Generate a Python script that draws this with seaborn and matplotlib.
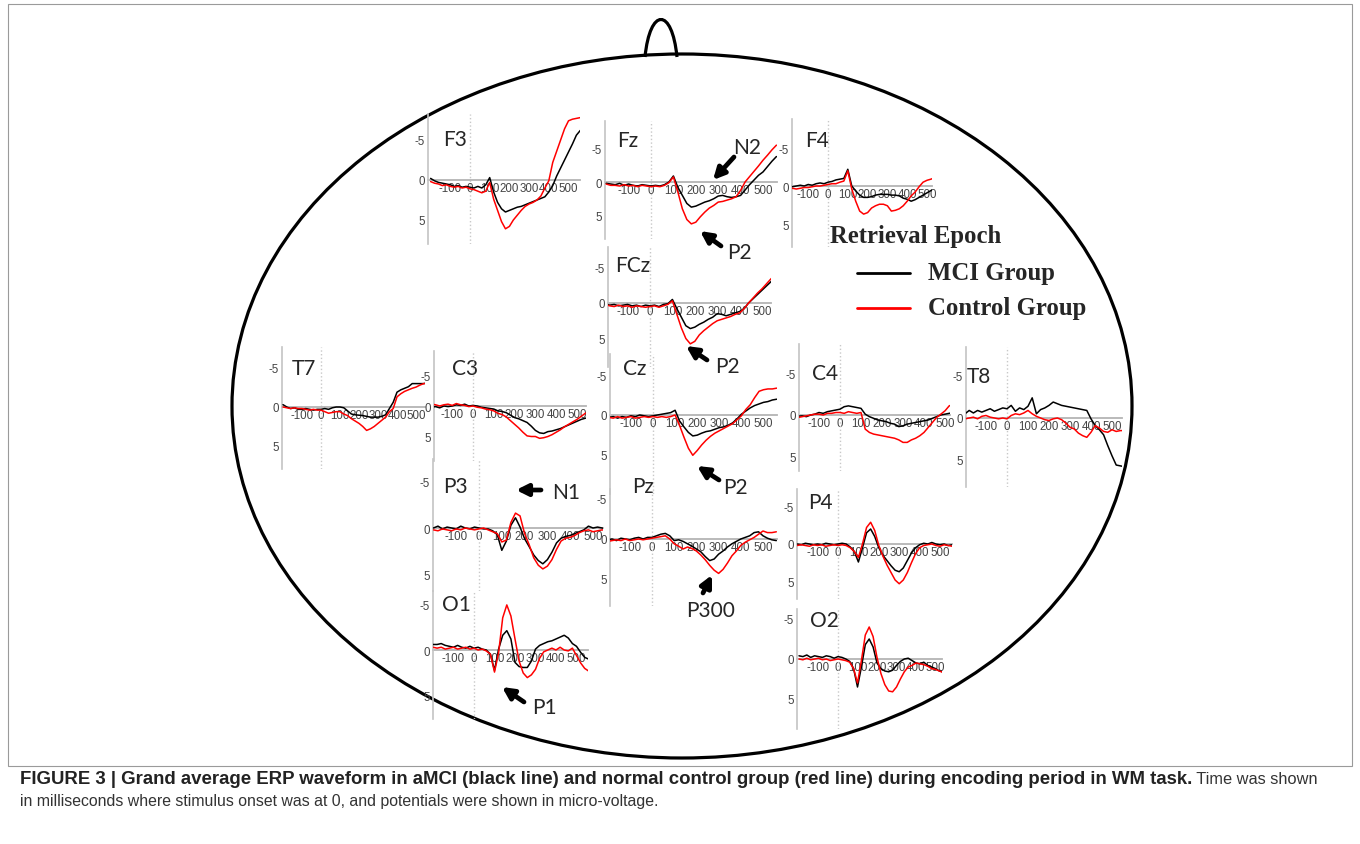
import numpy as np
import pandas as pd
import seaborn as sns
import matplotlib.pyplot as plt
from matplotlib.patches import Ellipse, Rectangle, PathPatch
from matplotlib.path import Path

# sample times (ms) shared by every electrode
times = [-200, -180, -160, -140, -120, -100, -80, -60, -40, -20, 0, 20, 40, 60, 80, 100,
         120, 140, 160, 180, 200, 220, 240, 260, 280, 300, 320, 340, 360, 380, 400, 420,
         440, 460, 480, 500, 520, 540, 560]

# grand average amplitudes (uV), MCI group (black) and control group (red)
f3_mci = [-0.2, 0.1, 0.3, 0.4, 0.5, 0.6, 0.8, 0.7, 0.9, 0.8, 0.9, 1.0, 0.8, 1.0, 0.6, -0.3, 1.5, 2.8, 3.6, 4.0,
          3.8, 3.6, 3.4, 3.3, 3.1, 2.9, 2.7, 2.5, 2.3, 2.1, 1.5, 0.7, -0.5, -1.5, -2.5, -3.5, -4.5, -5.6, -6.2]
f3_ctl = [0.2, 0.4, 0.5, 0.7, 0.6, 0.8, 0.9, 0.8, 1.0, 0.9, 1.1, 1.2, 1.4, 1.6, 1.4, 0.3, 2.4, 3.8, 5.2, 6.1,
          5.8, 5.0, 4.4, 3.8, 3.3, 3.0, 2.8, 2.5, 2.0, 1.0, 0.1, -2.2, -3.6, -5.0, -6.4, -7.4, -7.6, -7.7, -7.8]
fz_mci = [0.2, 0.3, 0.4, 0.2, 0.5, 0.3, 0.5, 0.6, 0.4, 0.5, 0.6, 0.5, 0.6, 0.4, 0.0, -0.9, 0.8, 2.0, 3.2, 3.75,
          3.6, 3.3, 3.0, 2.8, 2.5, 2.1, 2.0, 2.2, 2.3, 2.2, 2.0, 1.2, 0.4, -0.3, -1.0, -1.5, -2.3, -3.1, -3.8]
fz_ctl = [0.3, 0.5, 0.5, 0.6, 0.4, 0.6, 0.5, 0.7, 0.5, 0.6, 0.7, 0.6, 0.7, 0.5, 0.1, -0.75, 1.5, 4.0, 5.6, 6.25,
          6.0, 5.2, 4.5, 3.9, 3.5, 3.0, 2.9, 2.7, 2.5, 2.2, 1.25, 0.0, -0.8, -1.6, -2.4, -3.25, -4.0, -4.8, -5.5]
f4_mci = [0.2, 0.1, 0.0, -0.1, 0.0, -0.2, -0.1, -0.3, -0.4, -0.3, -0.5, -0.6, -0.8, -0.9, -1.0, -2.2, 0.0, 0.65, 1.2, 1.5,
          1.5, 1.4, 1.2, 1.1, 1.1, 1.1, 1.2, 1.2, 1.3, 1.6, 1.75, 2.0, 1.8, 1.5, 1.2, 0.9, 0.6, 0.3, 0.1]
f4_ctl = [0.4, 0.3, 0.4, 0.3, 0.2, 0.2, 0.1, 0.0, 0.0, -0.1, -0.2, -0.3, -0.3, -0.5, -0.65, -2.0, 0.4, 2.0, 3.3, 3.7,
          3.5, 2.9, 2.6, 2.4, 2.4, 2.6, 3.3, 3.2, 3.0, 2.6, 2.0, 1.3, 0.8, 0.1, -0.5, -0.75, -0.9, -1.1, -1.2]
fcz_mci = [0.1, 0.3, 0.2, 0.4, 0.3, 0.2, 0.4, 0.3, 0.5, 0.3, 0.4, 0.3, 0.5, 0.2, 0.1, -0.5, 0.8, 2.0, 3.2, 3.6,
           3.4, 3.0, 2.7, 2.3, 2.0, 1.5, 1.6, 1.8, 1.6, 1.4, 1.2, 0.8, 0.0, -0.6, -1.2, -1.8, -2.4, -3.0, -3.4]
fcz_ctl = [0.2, 0.4, 0.5, 0.3, 0.5, 0.4, 0.6, 0.4, 0.5, 0.6, 0.5, 0.4, 0.6, 0.4, 0.2, -0.3, 1.6, 3.5, 5.0, 5.75,
           5.4, 4.5, 3.9, 3.4, 2.9, 2.5, 2.3, 2.1, 1.9, 1.6, 1.4, 0.8, 0.0, -0.7, -1.4, -2.0, -2.7, -3.4, -4.0]
t7_mci = [-0.3, 0.0, 0.2, 0.1, 0.3, 0.3, 0.2, 0.3, 0.4, 0.3, 0.3, 0.2, 0.3, 0.1, 0.0, 0.0, 0.1, 0.5, 0.9, 1.0,
          1.05, 1.1, 1.2, 1.3, 1.3, 1.3, 1.2, 1.0, 0.2, -0.6, -1.9, -2.2, -2.4, -2.6, -3.0, -3.0, -3.0, -3.0, -3.1]
t7_ctl = [0.0, 0.1, 0.2, 0.1, 0.2, 0.2, 0.3, 0.4, 0.3, 0.4, 0.4, 0.6, 0.8, 0.7, 0.6, 0.6, 0.9, 1.1, 1.5, 1.8,
          2.1, 2.5, 3.0, 2.8, 2.5, 2.1, 1.7, 1.3, 0.6, 0.2, -1.3, -1.7, -2.0, -2.2, -2.4, -2.55, -2.8, -3.0, -3.0]
c3_mci = [0.2, 0.1, 0.3, 0.0, 0.1, 0.0, -0.2, -0.1, -0.3, 0.0, -0.1, 0.0, 0.2, 0.3, 0.4, 0.5, 0.8, 0.9, 1.1, 1.5,
          1.9, 2.1, 2.4, 2.7, 3.3, 4.0, 4.4, 4.5, 4.2, 4.1, 3.9, 3.7, 3.4, 3.1, 2.8, 2.5, 2.2, 2.0, 1.9]
c3_ctl = [-0.3, -0.2, 0.0, -0.2, -0.3, -0.1, -0.4, -0.2, -0.1, 0.1, 0.0, 0.2, 0.3, 0.5, 0.6, 0.8, 1.2, 1.4, 1.8, 2.4,
          3.0, 3.6, 4.3, 4.9, 5.0, 5.0, 5.3, 5.2, 5.0, 4.7, 4.3, 3.9, 3.4, 3.0, 2.6, 2.2, 1.7, 1.2, 0.9]
cz_mci = [0.3, 0.2, 0.4, 0.2, 0.3, 0.1, 0.2, 0.0, 0.1, 0.2, 0.1, 0.0, -0.1, -0.2, -0.3, -0.6, 0.75, 1.5, 2.2, 2.65,
          2.55, 2.3, 2.1, 2.0, 1.8, 1.6, 1.5, 1.3, 1.0, 0.5, -0.1, -0.5, -0.9, -1.2, -1.4, -1.6, -1.7, -1.9, -2.0]
cz_ctl = [0.3, 0.4, 0.2, 0.4, 0.3, 0.2, 0.4, 0.3, 0.2, 0.3, 0.2, 0.3, 0.2, 0.3, 0.2, 0.0, 1.3, 2.8, 4.2, 5.1,
          4.5, 3.8, 3.2, 2.7, 2.3, 2.0, 1.7, 1.4, 1.1, 0.6, 0.1, -0.7, -1.3, -2.2, -3.0, -3.2, -3.3, -3.3, -3.4]
c4_mci = [0.15, 0.1, 0.2, 0.0, -0.1, -0.3, -0.2, -0.4, -0.5, -0.6, -0.7, -1.0, -1.1, -1.0, -0.9, -0.8, -0.1, 0.2, 0.4, 0.6,
          0.7, 0.8, 1.0, 1.1, 1.4, 1.3, 1.1, 1.0, 0.9, 0.8, 0.7, 0.6, 0.4, 0.2, 0.0, -0.1, -0.2, -0.3, -0.3]
c4_ctl = [0.3, 0.2, 0.1, 0.0, -0.1, -0.1, 0.0, -0.2, -0.2, -0.3, -0.3, -0.2, -0.4, -0.3, -0.2, -0.3, 1.7, 2.1, 2.3, 2.4,
          2.5, 2.6, 2.7, 2.8, 3.0, 3.3, 3.3, 3.0, 2.8, 2.5, 2.1, 1.5, 0.9, 0.3, -0.1, -0.5, -1.1, -1.3, -1.4]
t8_mci = [-0.5, -0.9, -0.6, -0.9, -0.7, -0.9, -1.1, -0.8, -1.0, -1.2, -1.1, -1.5, -0.8, -1.2, -1.0, -1.4, -2.4, -0.5, -1.0, -1.2,
          -1.5, -1.9, -1.7, -1.5, -1.4, -1.3, -1.2, -1.1, -1.0, -0.9, 0.1, 0.9, 1.4, 2.0, 3.3, 4.5, 5.6, 5.7, 5.8]
t8_ctl = [0.1, 0.0, -0.1, 0.1, -0.2, -0.3, -0.1, 0.0, 0.1, 0.0, 0.1, -0.3, -0.5, -0.4, -0.6, -0.9, -0.5, -0.2, 0.0, 0.2,
          0.3, 0.1, 0.0, 0.2, 0.6, 1.1, 1.3, 1.8, 2.1, 2.3, 1.7, 0.9, 1.2, 1.6, 1.7, 1.4, 1.6, 1.5, 1.5]
p3_mci = [0.0, -0.2, 0.1, -0.1, 0.0, 0.1, -0.2, 0.0, 0.1, -0.1, 0.0, 0.1, 0.1, 0.3, 0.7, 2.4, 1.4, -0.3, -1.1, -0.1,
          1.15, 2.0, 2.9, 3.5, 3.85, 3.4, 2.6, 1.6, 1.1, 0.9, 0.8, 0.6, 0.4, 0.2, -0.2, 0.0, -0.1, 0.0, 0.1]
p3_ctl = [0.2, 0.3, 0.1, 0.2, 0.3, 0.1, 0.2, 0.0, 0.1, 0.2, 0.1, 0.0, 0.2, 0.4, 0.6, 1.5, 1.3, -0.6, -1.6, -1.3,
          0.6, 1.8, 3.2, 4.0, 4.4, 4.1, 3.4, 2.3, 1.4, 1.1, 1.0, 0.8, 0.5, 0.3, 0.2, 0.4, 0.3, 0.2, 0.3]
pz_mci = [0.1, 0.0, 0.2, -0.1, 0.0, 0.1, -0.1, -0.2, 0.0, -0.2, -0.2, -0.4, -0.6, -0.7, -0.4, 0.2, 0.1, 0.3, 0.6, 0.9,
          1.25, 1.6, 2.2, 2.7, 2.5, 1.9, 1.5, 1.0, 0.6, 0.3, 0.0, -0.2, -0.4, -0.8, -0.9, -0.4, -0.1, 0.1, 0.2]
pz_ctl = [0.3, 0.2, 0.1, 0.2, 0.0, 0.2, 0.1, 0.0, 0.1, 0.0, -0.1, -0.2, -0.3, -0.4, 0.0, 0.6, 0.9, 1.25, 1.0, 1.2,
          1.5, 2.0, 2.6, 3.3, 3.9, 4.3, 3.8, 3.0, 2.1, 1.5, 0.8, 0.4, 0.1, -0.2, -0.6, -1.0, -0.8, -0.8, -0.9]
p4_mci = [0.0, 0.1, -0.1, 0.0, 0.1, 0.0, 0.1, -0.1, 0.0, 0.1, 0.0, -0.1, 0.0, 0.4, 1.0, 2.4, 0.5, -1.5, -2.0, -1.0,
          0.5, 1.5, 2.2, 2.9, 3.5, 3.7, 3.2, 2.2, 1.2, 0.5, 0.1, -0.1, 0.0, -0.2, 0.0, 0.1, 0.0, 0.2, 0.1]
p4_ctl = [0.2, 0.1, 0.2, 0.3, 0.1, 0.2, 0.1, 0.3, 0.2, 0.1, 0.2, 0.1, 0.2, 0.5, 1.0, 1.8, 0.0, -2.2, -2.9, -1.8,
          0.2, 1.6, 2.8, 3.8, 4.8, 5.3, 4.8, 3.8, 2.5, 1.3, 0.5, 0.2, 0.1, 0.0, 0.2, 0.3, 0.1, 0.2, 0.3]
o1_mci = [-0.6, -0.6, -0.7, -0.5, -0.4, -0.3, -0.5, -0.3, -0.2, -0.4, -0.2, -0.3, -0.1, 0.0, 0.45, 2.2, -0.1, -1.6, -2.1, -1.2,
          1.35, 1.8, 1.9, 1.9, 1.2, -0.1, -0.5, -0.7, -0.9, -1.0, -1.2, -1.4, -1.6, -1.3, -0.7, -0.4, 0.25, 0.8, 1.0]
o1_ctl = [-0.3, -0.2, -0.3, -0.1, -0.2, -0.3, -0.1, -0.2, -0.3, -0.1, -0.2, 0.0, -0.1, 0.1, 0.45, 2.4, 0.3, -3.5, -4.9, -3.7,
          -1.2, 1.2, 2.5, 3.0, 2.7, 2.1, 0.9, 0.2, 0.0, -0.2, 0.0, -0.3, 0.0, 0.1, -0.2, 0.6, 1.4, 2.0, 2.3]
o2_mci = [-0.4, -0.3, -0.5, -0.2, -0.4, -0.3, -0.2, -0.4, -0.3, -0.1, -0.3, -0.2, 0.0, 0.3, 1.2, 3.5, 1.0, -1.8, -2.5, -1.5,
          0.5, 1.2, 1.5, 1.6, 1.4, 0.8, 0.3, 0.0, -0.1, 0.2, 0.5, 0.6, 0.4, 0.8, 1.0, 1.2, 1.5, 1.6, 1.6]
o2_ctl = [0.0, 0.1, -0.1, 0.1, 0.0, -0.1, 0.1, 0.0, 0.2, 0.1, 0.0, 0.1, 0.2, 0.4, 1.2, 3.0, 0.2, -3.0, -4.0, -2.8,
          -0.2, 1.8, 3.2, 4.0, 4.1, 3.5, 2.5, 1.6, 1.0, 0.8, 0.5, 0.6, 0.7, 0.9, 1.2, 1.3, 1.5, 1.7, 1.8]

electrodes = ["F3", "Fz", "F4", "FCz", "T7", "C3", "Cz", "C4", "T8", "P3", "Pz", "P4", "O1", "O2"]
waves = {
    "F3": (f3_mci, f3_ctl), "Fz": (fz_mci, fz_ctl), "F4": (f4_mci, f4_ctl), "FCz": (fcz_mci, fcz_ctl),
    "T7": (t7_mci, t7_ctl), "C3": (c3_mci, c3_ctl), "Cz": (cz_mci, cz_ctl), "C4": (c4_mci, c4_ctl),
    "T8": (t8_mci, t8_ctl), "P3": (p3_mci, p3_ctl), "Pz": (pz_mci, pz_ctl), "P4": (p4_mci, p4_ctl),
    "O1": (o1_mci, o1_ctl), "O2": (o2_mci, o2_ctl),
}
x_ticks = [-100, 0, 100, 200, 300, 400, 500]
y_ticks = [-5, 0, 5]

# panel placement in figure pixels:
# axis x, x of t=0, px per 100 ms, right x, y of 0 uV, px per uV, top y, bottom y, label x, label y
layout = {
    "F3":  (428, 470, 19.7, 580, 181, 8.0, 115, 245, 443, 140),
    "Fz":  (605, 651, 22.4, 777, 183, 6.7, 122, 240, 617, 141),
    "F4":  (792, 828, 19.8, 932, 187, 7.6, 120, 248, 805, 141),
    "FCz": (608, 650, 22.4, 771, 304, 7.1, 248, 368, 615, 266),
    "T7":  (282, 321, 19.0, 425, 408, 7.8, 348, 470, 292, 369),
    "C3":  (434, 473, 20.8, 586, 407, 6.1, 352, 462, 452, 369),
    "Cz":  (610, 653, 22.1, 777, 416, 7.9, 355, 495, 623, 369),
    "C4":  (799, 840, 21.0, 950, 416, 8.3, 345, 472, 812, 374),
    "T8":  (966, 1007, 21.0, 1122, 419, 8.4, 348, 488, 967, 377),
    "P3":  (433, 479, 22.8, 603, 529, 9.3, 460, 592, 443, 487),
    "Pz":  (610, 652, 22.2, 777, 540, 8.0, 490, 607, 632, 487),
    "P4":  (797, 838, 20.4, 952, 545, 7.5, 490, 600, 808, 503),
    "O1":  (433, 474, 20.5, 588, 651, 9.2, 592, 720, 442, 605),
    "O2":  (797, 838, 19.5, 942, 660, 8.0, 610, 730, 810, 621),
}

W, H = 1360, 845
sns.set_style("white")
plt.rcParams["font.family"] = ["Liberation Sans", "DejaVu Sans"]

fig = plt.figure(figsize=(W / 100, H / 100), dpi=100)
bg = fig.add_axes([0, 0, 1, 1])
bg.set_xlim(0, W)
bg.set_ylim(H, 0)
bg.axis("off")

# frame, head and nose
bg.add_patch(Rectangle((8, 5), 1344, 762, fill=False, ec="#9a9a9a", lw=0.8))
bg.add_patch(Ellipse((682, 407), 900, 704, fill=False, ec="black", lw=2.3))
nose = Path([(645, 58), (650, 8), (672, 8), (677, 58)],
            [Path.MOVETO, Path.CURVE4, Path.CURVE4, Path.CURVE4])
bg.add_patch(PathPatch(nose, fill=False, ec="black", lw=2.3))

label_font = ["Lato", "DejaVu Sans"]
palette = {"MCI Group": "black", "Control Group": "red"}

for name in electrodes:
    ax0, x0, p100, xr, y0, puv, yt, yb, lx, ly = layout[name]
    ax = fig.add_axes([ax0 / W, 1 - yb / H, (xr - ax0) / W, (yb - yt) / H])
    ax.set_facecolor("none")
    mci, ctl = waves[name]
    df = pd.DataFrame({
        "time": times + times,
        "amp": mci + ctl,
        "group": ["MCI Group"] * len(times) + ["Control Group"] * len(times),
    })
    ax.axvline(0, color="#c8c8c8", ls=":", lw=1.0, zorder=1)
    sns.lineplot(data=df, x="time", y="amp", hue="group", palette=palette,
                 hue_order=["MCI Group", "Control Group"], legend=False, lw=1.1, ax=ax, zorder=3)
    ax.set_xlim((ax0 - x0) / p100 * 100, (xr - x0) / p100 * 100)
    ax.set_ylim((yb - y0) / puv, (yt - y0) / puv)
    ax.set_xlabel("")
    ax.set_ylabel("")
    for s in ["top", "right"]:
        ax.spines[s].set_visible(False)
    ax.spines["left"].set_color("#c4c4c4")
    ax.spines["left"].set_linewidth(1.2)
    ax.spines["bottom"].set_position(("data", 0))
    ax.spines["bottom"].set_color("#b4b4b4")
    ax.spines["bottom"].set_linewidth(1.3)
    ax.spines["bottom"].set_zorder(2)
    ax.set_xticks(x_ticks)
    ax.set_xticklabels([str(v) for v in x_ticks])
    ax.set_yticks(y_ticks)
    ax.set_yticklabels([str(v) for v in y_ticks])
    ax.tick_params(axis="x", length=0, pad=1.5, labelsize=8.3, labelcolor="#444444")
    ax.tick_params(axis="y", length=0, pad=2.0, labelsize=8.3, labelcolor="#444444")
    bg.text(lx, ly, name, fontsize=15, family=label_font, va="center", ha="left")

# component arrows (tail, head, text position)
arrows = [
    ("N2", (734, 158), (713, 181), (733, 148)),
    ("P2", (721, 247), (700, 232), (727, 253)),
    ("P2", (707, 361), (686, 347), (715, 367)),
    ("P2", (719, 481), (697, 467), (723, 488)),
    ("N1", (541, 491), (516, 491), (552, 493)),
    ("P300", (703, 594), (712, 576), (686, 611)),
    ("P1", (524, 703), (502, 688), (532, 708)),
]
for lab, tail, head, tpos in arrows:
    bg.annotate("", xy=head, xytext=tail,
                arrowprops=dict(arrowstyle="-|>", lw=3.4, color="black", mutation_scale=17,
                                shrinkA=0, shrinkB=0))
    bg.text(tpos[0], tpos[1], lab, fontsize=15, family=label_font, va="center", ha="left")

# legend
serif = ["Liberation Serif", "DejaVu Serif"]
bg.text(830, 236, "Retrieval Epoch", fontsize=17.8, family=serif, weight="bold", va="center")
bg.plot([857, 910], [274, 274], color="black", lw=2)
bg.plot([857, 910], [309, 309], color="red", lw=2)
bg.text(928, 274, "MCI Group", fontsize=17.8, family=serif, weight="bold", va="center")
bg.text(928, 309, "Control Group", fontsize=17.8, family=serif, weight="bold", va="center")

# caption
cap1 = bg.text(20, 780, "FIGURE 3 | Grand average ERP waveform in aMCI (black line) and normal control group "
               "(red line) during encoding period in WM task.", fontsize=13.4, weight="bold",
               color="#222222", va="center")
bg.annotate(" Time was shown", xy=(1, 0.5), xycoords=cap1, fontsize=11.8, color="#333333",
            va="center", ha="left")
bg.text(20, 802, "in milliseconds where stimulus onset was at 0, and potentials were shown in micro-voltage.",
        fontsize=11.4, color="#333333", va="center")

fig.savefig("out.png", dpi=100)
